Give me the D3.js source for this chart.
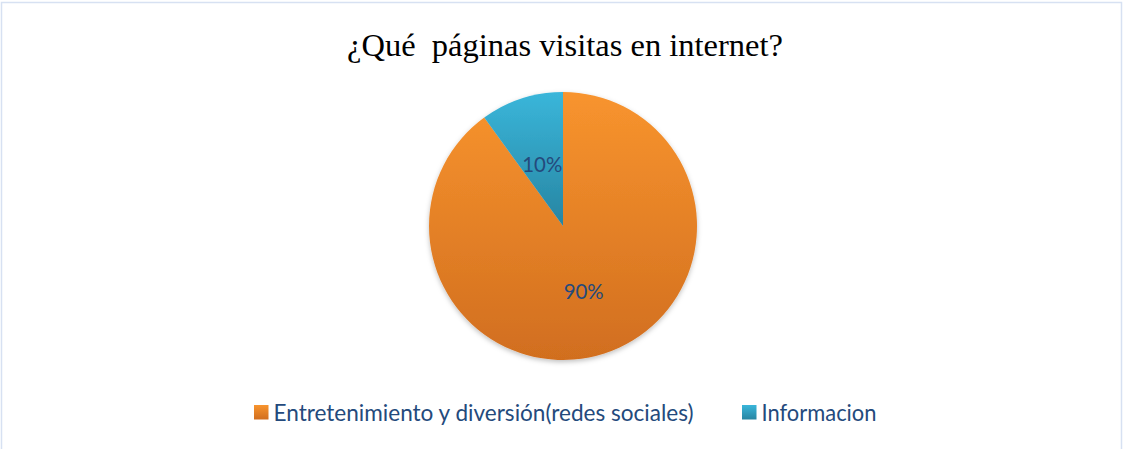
<!DOCTYPE html>
<html lang="es">
<head>
<meta charset="utf-8">
<title>¿Qué páginas visitas en internet?</title>
<script src="https://cdn.jsdelivr.net/npm/d3@7"></script>
<style>
  body { margin: 0; background: #fff; }
  svg { display: block; }
  .title { white-space: pre; }
</style>
</head>
<body>
<script>
// data
var categories = ["Entretenimiento y diversión(redes sociales)", "Informacion"];
var values = [90, 10];
var pctLabels = ["90%", "10%"];
var titleText = "¿Qué  páginas visitas en internet?";

var w = 1123, h = 449;
var cx = 563, cy = 226, r = 134;

// top/bottom gradient colours per slice
var colTop = ["#f8942e", "#3ab6da"];
var colBot = ["#d16e1f", "#2785a2"];

var svg = d3.select("body").append("svg")
  .attr("width", w).attr("height", h);

// chart border
svg.append("rect")
  .attr("x", 1.5).attr("y", 2.5)
  .attr("width", 1120).attr("height", 470)
  .attr("fill", "#fff")
  .attr("stroke", "#d7e1f2").attr("stroke-width", 1.5);

var defs = svg.append("defs");
var f = defs.append("filter").attr("id", "shadow")
  .attr("x", "-10%").attr("y", "-10%").attr("width", "120%").attr("height", "120%");
f.append("feDropShadow").attr("dx", 0).attr("dy", 2).attr("stdDeviation", 2.5)
  .attr("flood-color", "#000").attr("flood-opacity", 0.25);

var pie = d3.pie().sort(null).value(function(d) { return d; });
var arcs = pie(values);
var arc = d3.arc().innerRadius(0).outerRadius(r);

// gradients for each slice, spanning its bbox vertically
arcs.forEach(function(a, i) {
  var g = defs.append("linearGradient").attr("id", "grad" + i)
    .attr("x1", 0).attr("y1", 0).attr("x2", 0).attr("y2", 1);
  g.append("stop").attr("offset", "0%").attr("stop-color", colTop[i]);
  g.append("stop").attr("offset", "100%").attr("stop-color", colBot[i]);
});

var pieG = svg.append("g")
  .attr("transform", "translate(" + cx + "," + cy + ")")
  .attr("filter", "url(#shadow)");

pieG.selectAll("path")
  .data(arcs)
  .enter()
  .append("path")
  .attr("d", arc)
  .attr("fill", function(d, i) { return "url(#grad" + i + ")"; });

// percentage labels
var lg = svg.append("g").attr("transform", "translate(" + cx + "," + cy + ")");
lg.selectAll("text")
  .data(arcs)
  .enter()
  .append("text")
  .attr("x", function(d) { return arc.centroid(d)[0]; })
  .attr("y", function(d) { return arc.centroid(d)[1] + 2; })
  .attr("text-anchor", "middle")
  .attr("dy", "0.35em")
  .attr("font-family", "Lato, sans-serif")
  .attr("font-size", "21px")
  .attr("fill", "#244a7c")
  .attr("textLength", 40)
  .attr("lengthAdjust", "spacingAndGlyphs")
  .text(function(d, i) { return pctLabels[i]; });

// title
svg.append("text")
  .attr("class", "title")
  .attr("x", 565).attr("y", 56)
  .attr("text-anchor", "middle")
  .attr("font-family", "'Liberation Serif', 'Times New Roman', serif")
  .attr("font-size", "32.5px")
  .attr("fill", "#000")
  .text(titleText);

// legend
var legendX = [254, 742];
var legendW = [420, 115];
var legend = svg.append("g");
categories.forEach(function(c, i) {
  var g = legend.append("g").attr("transform", "translate(" + legendX[i] + ",405)");
  var lgr = defs.append("linearGradient").attr("id", "lgrad" + i)
    .attr("x1", 0).attr("y1", 0).attr("x2", 0).attr("y2", 1);
  lgr.append("stop").attr("offset", "0%").attr("stop-color", colTop[i]);
  lgr.append("stop").attr("offset", "100%").attr("stop-color", colBot[i]);
  g.append("rect").attr("width", 14.5).attr("height", 14.5)
    .attr("fill", "url(#lgrad" + i + ")");
  g.append("text")
    .attr("x", 19.5).attr("y", 16)
    .attr("font-family", "Lato, sans-serif")
    .attr("font-size", "23px")
    .attr("fill", "#244a7c")
    .attr("textLength", legendW[i])
    .attr("lengthAdjust", "spacingAndGlyphs")
    .text(c);
});
</script>
</body>
</html>
